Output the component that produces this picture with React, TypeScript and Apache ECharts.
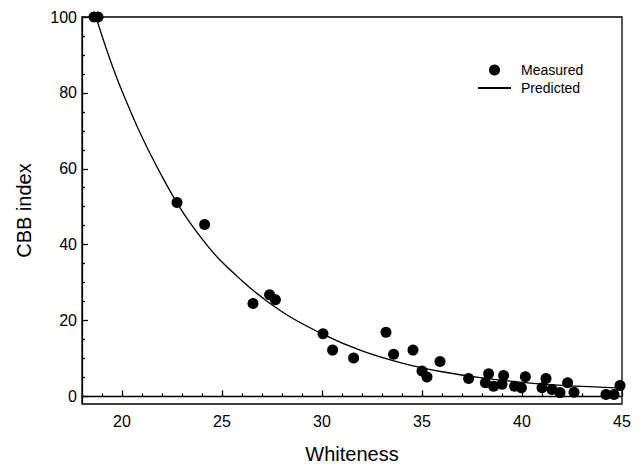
import React, { useEffect, useRef } from "react";
import * as echarts from "echarts";

const measuredX = [18.6, 18.8, 22.75, 24.13, 26.55, 27.38, 27.67, 30.05, 30.53, 31.58, 33.2, 33.58, 34.55, 35.0, 35.25, 35.9, 37.33, 38.33, 38.17, 38.58, 39.08, 39.0, 39.63, 40.17, 39.97, 41.2, 41.0, 41.5, 41.9, 42.28, 42.6, 44.2, 44.6, 44.9];
const measuredY = [100, 100, 51.1, 45.3, 24.5, 26.8, 25.5, 16.5, 12.2, 10.1, 16.9, 11.1, 12.2, 6.7, 5.1, 9.2, 4.7, 6.0, 3.6, 2.7, 5.5, 3.2, 2.7, 5.2, 2.3, 4.7, 2.3, 1.8, 1.0, 3.6, 1.1, 0.5, 0.5, 2.9];

const predictedX = [18.7, 20, 22, 24, 26, 28, 30, 32, 34, 36, 38, 40, 42, 45];
const predictedY = [100, 80.5, 58, 41.5, 30.5, 22.3, 16.5, 12, 8.8, 6.5, 4.9, 3.7, 2.9, 2.2];

const xMajorTicks = [20, 25, 30, 35, 40, 45];
const xMinorTicks = [19, 21, 22, 23, 24, 26, 27, 28, 29, 31, 32, 33, 34, 36, 37, 38, 39, 41, 42, 43, 44];
const yMajorTicks = [0, 20, 40, 60, 80, 100];
const yMinorTicks = [5, 10, 15, 25, 30, 35, 45, 50, 55, 65, 70, 75, 85, 90, 95];

const FONT = "'Liberation Sans', Arial, sans-serif";

export default function App() {
  const ref = useRef<HTMLDivElement>(null);
  useEffect(() => {
    if (!ref.current) return;
    const chart = echarts.init(ref.current, undefined, { renderer: "svg" });
    const measured = measuredX.map((x, i) => [x, measuredY[i]]);
    const predicted = predictedX.map((x, i) => [x, predictedY[i]]);
    const lineStyle = { color: "#000", width: 1.3 };
    chart.setOption({
      animation: false,
      backgroundColor: "#fff",
      textStyle: { fontFamily: FONT, color: "#000" },
      grid: {
        left: 82,
        right: 20,
        top: 17,
        bottom: 60,
        outerBoundsMode: "none",
        containLabel: false,
        show: true,
        borderColor: "#000",
        borderWidth: 1.3,
      },
      legend: {
        orient: "vertical",
        left: 472,
        top: 58,
        itemWidth: 33,
        itemHeight: 11,
        itemGap: 4,
        textStyle: { fontFamily: FONT, fontSize: 14, color: "#000", padding: [0, 0, 0, 5] },
        data: [
          { name: "Measured", icon: "circle" },
          { name: "Predicted", itemStyle: { color: "rgba(0,0,0,0)", borderWidth: 0, opacity: 0 } },
        ],
      },
      xAxis: [
        {
          type: "value",
          min: 18,
          max: 45,
          position: "bottom",
          name: "Whiteness",
          nameLocation: "middle",
          nameGap: 40,
          nameTextStyle: { fontFamily: FONT, fontSize: 20, color: "#000" },
          axisLine: { lineStyle },
          axisTick: { inside: true, length: 6, customValues: xMajorTicks, lineStyle },
          axisLabel: { customValues: xMajorTicks, fontSize: 16, color: "#000", margin: 9, fontFamily: FONT },
          splitLine: { show: false },
        },
        {
          type: "value",
          min: 18,
          max: 45,
          position: "bottom",
          offset: 0,
          axisLine: { show: false },
          axisTick: { inside: true, length: 3, customValues: xMinorTicks, lineStyle },
          axisLabel: { show: false },
          splitLine: { show: false },
        },
      ],
      yAxis: [
        {
          type: "value",
          min: -2,
          max: 100,
          position: "left",
          name: "CBB index",
          nameLocation: "middle",
          nameGap: 48,
          nameTextStyle: { fontFamily: FONT, fontSize: 20, color: "#000" },
          axisLine: { show: true, lineStyle },
          axisTick: { show: true, inside: true, length: 6, customValues: yMajorTicks, lineStyle },
          axisLabel: { customValues: yMajorTicks, fontSize: 16, color: "#000", margin: 5, fontFamily: FONT },
          splitLine: { show: false },
        },
        {
          type: "value",
          min: -2,
          max: 100,
          position: "left",
          offset: 0,
          axisLine: { show: false },
          axisTick: { show: true, inside: true, length: 3, customValues: yMinorTicks, lineStyle },
          axisLabel: { show: false },
          splitLine: { show: false },
        },
      ],
      series: [
        {
          name: "Predicted",
          type: "line",
          data: predicted,
          smooth: 0.4,
          symbol: "none",
          lineStyle: { color: "#000", width: 1.3 },
          itemStyle: { color: "#000" },
          z: 2,
        },
        {
          name: "Measured",
          type: "scatter",
          data: measured,
          symbol: "circle",
          symbolSize: 11,
          itemStyle: { color: "#000", opacity: 1 },
          z: 3,
        },
      ],
    });
    return () => chart.dispose();
  }, []);
  return (
    <div
      ref={ref}
      style={{ position: "fixed", left: 0, top: 0, width: 642, height: 464, background: "#fff" }}
    />
  );
}
